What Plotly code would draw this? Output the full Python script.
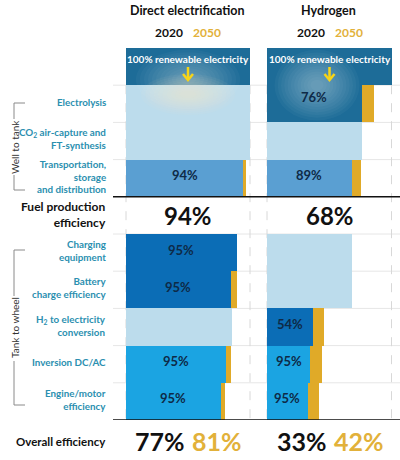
import plotly.graph_objects as go

W, H = 400, 460
OFF = 0  # body margin removed by post_script below
FONT = "Lato"

# ---------------- data ----------------
stages = ["Renewable electricity", "Electrolysis", "CO2 air-capture and FT-synthesis",
          "Transportation, storage and distribution", "Fuel production efficiency",
          "Charging equipment", "Battery charge efficiency", "H2 to electricity conversion",
          "Inversion DC/AC", "Engine/motor efficiency"]
stage_labels = ["", "Electrolysis", "CO<sub>2</sub> air-capture and<br>FT-synthesis",
                "Transportation,<br>storage<br>and distribution", "",
                "Charging<br>equipment", "Battery<br>charge efficiency",
                "H<sub>2</sub> to electricity<br>conversion", "Inversion DC/AC",
                "Engine/motor<br>efficiency"]

# cumulative share of the initial renewable electricity still available (%)
de_2020 = [100, 100, 100, 95, None, 89.5, 84.5, 85.2, 80.6, 76.4]
de_2050 = [None, None, None, 96.5, None, None, 89.5, None, 84.4, 80.1]
de_step = ["", "", "", "94%", "", "95%", "95%", "", "95%", "95%"]
de_kind = ["source", "na", "na", "fuel", None, "charge", "charge", "na", "drive", "drive"]

h2_2020 = [100, 75.8, 76, 67.7, None, 67.7, 67.7, 36.7, 34.5, 32.4]
h2_2050 = [None, 85.5, None, 75, None, None, None, 45.8, 43.9, 41.2]
h2_step = ["", "76%", "", "89%", "", "", "", "54%", "95%", "95%"]
h2_kind = ["source", "source", "na", "fuel", None, "na", "na", "charge", "drive", "drive"]

fuel_eff = ["94%", "68%"]
overall_2020 = ["77%", "33%"]
overall_2050 = ["81%", "42%"]
panel_titles = ["Direct electrification", "Hydrogen"]
year_labels = ["2020", "2050"]
header_text = "100% renewable electricity"

# ---------------- styles ----------------
COL = {"source": "#1d6c98", "na": "#bcdcec", "fuel": "#5a9fd2",
       "charge": "#0b6db6", "drive": "#1ba4e2", None: "#ffffff"}
GOLD = "#e0aa28"
GOLD_TXT = "#e2b13a"
TEAL = "#2b8fb0"
NAVY = "#0e2a47"
BLACK = "#111111"
ARROW = "#f7d417"


def px(x):
    return (x - OFF) / W


def py(y):
    return 1 - (y - OFF) / H


X1 = (126, 250)
X2 = (267, 392)
Y_TOP, Y_BOT = 48, 420

fig = go.Figure()


def add_panel(v20, v50, kinds, xa):
    fig.add_trace(go.Bar(
        y=stages, x=v20, orientation="h", xaxis=xa, yaxis="y",
        marker=dict(color=[COL[k] for k in kinds], line=dict(width=0)),
        hoverinfo="skip", showlegend=False, width=1))
    diff = [(b - a) if (a is not None and b is not None) else None for a, b in zip(v20, v50)]
    fig.add_trace(go.Bar(
        y=stages, x=diff, base=v20, orientation="h", xaxis=xa, yaxis="y",
        marker=dict(color=GOLD, line=dict(width=0)),
        hoverinfo="skip", showlegend=False, width=1))


add_panel(de_2020, de_2050, de_kind, "x")
add_panel(h2_2020, h2_2050, h2_kind, "x2")

shapes = []
# faint row separators
for k in [1, 2, 3, 5, 6, 7, 8, 9]:
    shapes.append(dict(type="line", xref="paper", yref="y", x0=px(113), x1=1,
                       y0=k - 0.5, y1=k - 0.5, line=dict(color="#e6e6e6", width=1),
                       layer="below"))
# dashed verticals at panel edges
for xv in [X1[0], X1[1], X2[0], X2[1] - 0.5]:
    shapes.append(dict(type="line", xref="paper", yref="y", x0=px(xv), x1=px(xv),
                       y0=0.5, y1=9.5, line=dict(color="#d8d8d8", width=1, dash="dash"),
                       layer="below"))
# black separators
for yv in [3.5, 9.5]:
    shapes.append(dict(type="line", xref="paper", yref="y", x0=px(113), x1=1,
                       y0=yv, y1=yv, line=dict(color=BLACK, width=1.6), layer="above"))


# soft glows (stacked translucent ellipses)
def glow(xref, cx, cy, rx, ry, color, n=12, op=0.035):
    for i in range(n):
        f = 1 - i / (n + 1)
        shapes.append(dict(type="circle", xref=xref, yref="y",
                           x0=cx - rx * f, x1=cx + rx * f, y0=cy - ry * f, y1=cy + ry * f,
                           fillcolor=color, opacity=op, line=dict(width=0), layer="above"))


glow("x", 50, 0.35, 42, 0.8, "#ffffff", n=12, op=0.03)
glow("x", 50, 0.75, 38, 0.55, "#fff4c8", n=10, op=0.05)
glow("x2", 40, 0.5, 34, 0.95, "#ffffff", n=12, op=0.035)

# yellow down arrows under the header text
for (l, r) in (X1, X2):
    cx = (l + r) / 2
    shapes.append(dict(type="line", xref="paper", yref="paper", x0=px(cx), x1=px(cx),
                       y0=py(67), y1=py(79), line=dict(color=ARROW, width=2.5), layer="above"))
    shapes.append(dict(type="path", xref="paper", yref="paper",
                       path=f"M {px(cx - 5)},{py(74)} L {px(cx)},{py(80)} L {px(cx + 5)},{py(74)}",
                       line=dict(color=ARROW, width=2.5), layer="above"))

# brackets
bk = "#8a8a8a"
for (a, b, t0, t1) in [(103, 190, 119, 175), (250, 405, 296, 361)]:
    shapes.append(dict(type="line", xref="paper", yref="paper", x0=px(14), x1=px(14),
                       y0=py(a), y1=py(t0), line=dict(color=bk, width=1)))
    shapes.append(dict(type="line", xref="paper", yref="paper", x0=px(14), x1=px(14),
                       y0=py(t1), y1=py(b), line=dict(color=bk, width=1)))
    for yy in (a, b):
        shapes.append(dict(type="line", xref="paper", yref="paper", x0=px(14), x1=px(25),
                           y0=py(yy), y1=py(yy), line=dict(color=bk, width=1)))

ann = []


def A(**kw):
    kw.setdefault("showarrow", False)
    kw.setdefault("xanchor", "center")
    kw.setdefault("yanchor", "middle")
    ann.append(kw)


# row labels
for s, lab in zip(stages, stage_labels):
    if lab:
        A(xref="paper", yref="y", x=px(108), y=s, text=lab, xanchor="right", align="right",
          yshift=2, font=dict(family=FONT, size=9.8, color=TEAL, weight="bold"))
A(xref="paper", yref="y", x=px(108), y=stages[4], text="Fuel production<br>efficiency",
  xanchor="right", align="right", yshift=1,
  font=dict(family=FONT, size=12, color=BLACK, weight="bold"))
A(xref="paper", yref="paper", x=px(108), y=py(441), text="Overall efficiency", xanchor="right",
  font=dict(family=FONT, size=11.5, color=BLACK, weight="bold"))
# bracket texts
A(xref="paper", yref="paper", x=px(15), y=py(147), text="Well to tank", textangle=-90,
  font=dict(family=FONT, size=10, color="#333333"))
A(xref="paper", yref="paper", x=px(15), y=py(328), text="Tank to wheel", textangle=-90,
  font=dict(family=FONT, size=10, color="#333333"))

# step efficiency labels, centred on each 2020 bar
for xa, vals, steps in [("x", de_2020, de_step), ("x2", h2_2020, h2_step)]:
    for s, v, t in zip(stages, vals, steps):
        if t and v is not None:
            A(xref=xa, yref="y", x=v / 2, y=s, text=t,
              yshift=7 if s == stages[1] else 3,
              font=dict(family=FONT, size=13, color=NAVY, weight="bold"))

for i, (xa, (l, r)) in enumerate([("x", X1), ("x2", X2)]):
    cx = (l + r) / 2
    A(xref="paper", yref="paper", x=px(cx - 1), y=py(11), text=panel_titles[i],
      font=dict(family=FONT, size=12.5, color=BLACK, weight="bold"))
    A(xref="paper", yref="paper", x=px(cx - 3), y=py(32), text=year_labels[0], xanchor="right",
      font=dict(family=FONT, size=12, color=BLACK, weight="bold"))
    A(xref="paper", yref="paper", x=px(cx + 3), y=py(32), text=year_labels[1], xanchor="left",
      font=dict(family=FONT, size=12, color=GOLD_TXT, weight="bold"))
    A(xref="paper", yref="paper", x=px(cx), y=py(59), text=header_text,
      font=dict(family=FONT, size=10, color="white", weight="bold"))
    A(xref=xa, yref="y", x=50, y=stages[4], text=fuel_eff[i],
      font=dict(family=FONT, size=24, color=BLACK, weight="bold"))
    A(xref="paper", yref="paper", x=px(cx - 1), y=py(441), text=overall_2020[i], xanchor="right",
      font=dict(family=FONT, size=25, color=BLACK, weight="bold"))
    A(xref="paper", yref="paper", x=px(cx + 2), y=py(441), text=overall_2050[i], xanchor="left",
      font=dict(family=FONT, size=25, color=GOLD_TXT, weight="bold"))

axis_common = dict(range=[0, 100], showgrid=False, zeroline=False, showticklabels=False,
                   showline=False, ticks="", fixedrange=True)
fig.update_layout(
    width=W, height=H, margin=dict(l=0, r=0, t=0, b=0),
    paper_bgcolor="white", plot_bgcolor="rgba(0,0,0,0)",
    barmode="overlay", bargap=0, showlegend=False,
    xaxis=dict(domain=[px(X1[0]), px(X1[1])], anchor="y", **axis_common),
    xaxis2=dict(domain=[px(X2[0]), px(X2[1])], anchor="y", **axis_common),
    yaxis=dict(domain=[py(Y_BOT), py(Y_TOP)], type="category", categoryarray=stages,
               range=[9.5, -0.5], showgrid=False, zeroline=False, showticklabels=False,
               ticks="", anchor="x", fixedrange=True),
    shapes=shapes, annotations=ann,
    font=dict(family=FONT),
)

fig.write_html("out.html", config={"displayModeBar": False},
               post_script="document.body.style.margin='0px';")
